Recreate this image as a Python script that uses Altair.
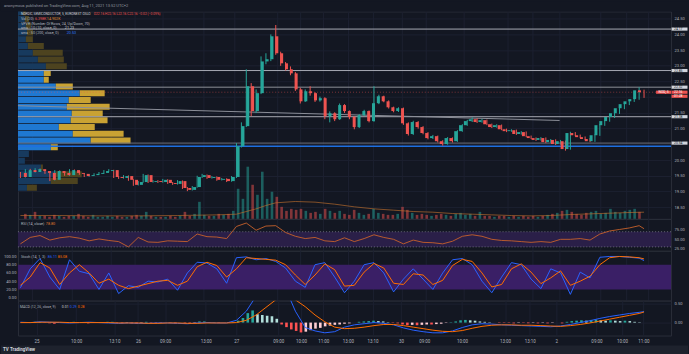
import json
import altair as alt
import pandas as pd

# ---------------- data ----------------
first_open = 19.59
closes = [19.46,19.68,19.62,19.71,19.65,19.59,19.37,19.65,19.59,19.52,
          19.68,19.59,19.56,19.49,19.52,19.56,19.59,19.65,19.68,19.46,
          19.43,19.49,19.37,19.21,19.30,19.52,19.30,19.33,19.30,19.37,
          19.27,19.24,19.33,19.11,19.05,19.14,19.46,19.52,19.43,19.46,
          19.37,19.40,19.33,19.46,20.44,21.08,22.35,21.56,22.13,23.14,
          23.21,23.94,23.40,23.08,22.89,22.76,22.25,21.87,22.19,22.13,
          21.90,21.97,21.40,21.49,21.30,21.75,21.56,21.37,21.05,21.43,
          21.56,21.24,21.81,22.03,21.87,21.68,21.56,21.65,21.17,20.83,
          21.21,21.05,20.86,20.70,20.76,20.60,20.51,20.70,20.60,20.92,
          21.11,21.24,21.30,21.21,21.27,21.14,21.05,21.11,20.98,20.92,
          20.95,20.83,20.89,20.76,20.70,20.64,20.70,20.57,20.64,20.51,
          20.60,20.35,20.86,20.79,20.73,20.67,20.60,20.79,21.11,21.24,
          21.37,21.49,21.65,21.78,21.87,21.94,22.22,22.16]
highs = [19.62,19.71,19.72,19.74,19.73,19.67,19.61,19.68,19.67,19.62,
         19.71,19.70,19.61,19.58,19.55,19.58,19.62,19.68,19.71,19.69,
         19.49,19.52,19.51,19.39,19.33,19.56,19.54,19.36,19.36,19.40,
         19.39,19.30,19.36,19.35,19.14,19.17,19.50,19.56,19.54,19.49,
         19.48,19.43,19.42,19.49,20.54,21.20,22.89,22.45,22.25,23.30,
         23.40,24.00,24.30,23.45,23.12,22.98,22.80,22.30,22.25,22.35,
         22.16,22.02,22.00,21.55,21.52,21.80,21.78,21.58,21.40,21.46,
         21.60,21.58,22.35,22.08,22.05,21.90,21.70,21.68,21.67,21.20,
         21.25,21.24,21.08,20.89,20.80,20.78,20.63,20.73,20.72,20.95,
         21.14,21.28,21.36,21.33,21.31,21.29,21.16,21.14,21.13,21.00,
         20.98,20.97,20.92,20.91,20.78,20.72,20.73,20.72,20.67,20.66,
         20.64,20.62,20.90,20.89,20.81,20.75,20.70,20.82,21.14,21.27,
         21.40,21.52,21.68,21.82,21.90,21.98,22.32,22.24]
lows = [19.43,19.44,19.60,19.60,19.62,19.56,19.33,19.35,19.57,19.50,
        19.50,19.56,19.53,19.46,19.47,19.50,19.54,19.57,19.63,19.43,
        19.40,19.41,19.34,19.18,19.19,19.28,19.27,19.28,19.27,19.28,
        19.24,19.21,19.22,19.08,19.01,19.03,19.12,19.43,19.40,19.41,
        19.34,19.35,19.30,19.31,19.43,20.40,21.05,21.40,21.50,22.10,
        23.05,23.15,23.35,23.00,22.85,22.70,22.20,21.80,21.85,22.05,
        21.85,21.86,21.30,21.20,21.24,21.28,21.50,21.30,20.98,21.02,
        21.40,21.20,21.22,21.78,21.84,21.64,21.52,21.53,21.12,20.78,
        20.80,21.00,20.82,20.66,20.67,20.56,20.46,20.49,20.56,20.58,
        20.90,21.09,21.21,21.18,21.19,21.11,21.02,21.03,20.95,20.89,
        20.90,20.80,20.81,20.73,20.67,20.61,20.62,20.54,20.55,20.48,
        20.49,20.30,20.33,20.76,20.70,20.64,20.57,20.58,20.77,21.09,
        21.22,21.34,21.47,21.62,21.75,21.85,21.92,21.98]
volumes_k = [7.5,6,10.5,4.5,4.5,3,6,4.5,3,4.5,
             4.5,7.5,4.5,3,6,3,3,4.5,3,4.5,
             3,3,4.5,6,4.5,10.5,4.5,3,3,3,
             4.5,3,4.5,10.5,4.5,7.5,25.5,6,4.5,4.5,
             7.5,6,7.5,12,45,30,78,51,36,70.5,
             30,40.5,33,18,12,15,13.5,15,12,9,
             10.5,7.5,15,12,9,12,7.5,6,13.5,9,
             6,7.5,15,9,7.5,6,6,7.5,18,13.5,
             9,6,7.5,6,4.5,6,7.5,6,4.5,7.5,
             9,6,7.5,4.5,10.5,4.5,4.5,3,4.5,4.5,
             3,4.5,3,4.5,3,4.5,3,4.5,6,7.5,
             9,12,13.5,10.5,7.5,6,9,10.5,12,7.5,
             9,15,10.5,9,12,13.5,15,10.5]
vol_ma_idx = [0,8,16,24,32,40,44,46,48,50,52,56,60,64,68,72,76,80,84,88,92,96,100,104,108,112,116,120,124,127]
vol_ma_k = [5,5,4.5,4.5,5,6,7,11,15,20,24,26,25,22,18,15,13,11,10,8,7,6,5,4.5,5,6.5,7.5,8.5,9.5,10]

# volume profile rows, bottom -> top
vp_up = [6.9,25.2,29.0,17.6,5.3,8.4,25.2,55.7,42.0,31.3,40.4,41.2,37.4,38.9,47.3,29.0,19.8,19.8,
         21.4,15.3,11.4,7.6,6.1,6.9,6.1,5.3,3.8]
vp_down = [7.6,20.6,19.8,1.5,0,0,5.3,30.5,38.9,27.5,28.2,23.7,32.8,16.8,19.1,13.0,3.8,5.3,
           16.0,19.8,22.9,12.2,5.3,4.6,3.8,3.1,2.3]
VP_LOW = 19.02
VP_STEP = 0.215
VALUE_AREA = (6, 17)

level_prices = [24.17, 22.85, 22.32, 21.38, 20.54]
blue_level = 20.44
trend_idx = [-0.5, 109.8]
trend_price = [21.73, 21.26]
last_price = 22.16

ind_idx = list(range(0, 128, 2)) + [127]
rsi = [38,55,60,48,54,57,53,46,51,47,44,30,55,43,42,46,45,44,64,57,56,52,
       84,93,74,85,86,68,58,52,55,46,44,54,44,52,62,55,50,38,48,42,41,38,45,58,62,58,50,47,
       46,44,42,44,42,50,50,52,48,64,72,76,80,86,78]
stoch_k = [24,70,95,50,20,92,64,58,20,60,10,29,25,40,38,45,18,60,86,84,70,35,
           97,99,92,95,88,72,40,25,80,85,50,12,40,80,85,60,14,45,70,45,20,60,92,95,80,40,12,50,
           85,80,45,22,70,60,8,62,48,98,100,100,98,96,90]
stoch_d = [30,50,85,72,32,60,80,60,35,45,30,22,28,34,40,42,30,40,75,86,78,50,
           70,97,95,93,91,80,55,32,55,82,68,28,30,62,83,72,35,32,58,55,32,42,78,93,88,60,26,32,
           70,82,62,34,48,65,30,40,52,80,97,100,99,97,94]
macd = [0.01,0.0,0.02,0.01,0.0,-0.01,0.0,0.01,0.0,-0.01,-0.02,-0.01,-0.02,-0.02,-0.01,-0.01,-0.02,-0.03,-0.01,0.0,-0.01,-0.01,
        0.06,0.3,0.7,1.0,1.2,0.9,0.3,-0.13,-0.22,-0.27,-0.24,-0.12,-0.06,-0.03,0.0,-0.02,-0.06,-0.14,-0.2,-0.24,
        -0.27,-0.27,-0.22,-0.13,-0.06,-0.03,-0.04,-0.06,-0.07,-0.08,-0.09,-0.1,-0.11,-0.09,-0.05,0.0,0.05,0.11,
        0.16,0.2,0.24,0.27,0.29]
signal = [0.0,0.0,0.01,0.01,0.01,0.0,0.0,0.0,0.0,0.0,-0.01,-0.01,-0.01,-0.02,-0.02,-0.01,-0.01,-0.02,-0.02,-0.01,-0.01,-0.01,
          0.0,0.06,0.2,0.4,0.6,0.75,0.6,0.42,0.2,0.02,-0.12,-0.16,-0.15,-0.12,-0.08,-0.05,-0.05,-0.08,-0.12,-0.16,
          -0.2,-0.23,-0.24,-0.21,-0.15,-0.1,-0.07,-0.06,-0.06,-0.07,-0.07,-0.08,-0.09,-0.1,-0.08,-0.05,-0.01,0.04,
          0.09,0.14,0.19,0.24,0.28]
hist = [0.01,-0.01,0.02,0.01,-0.01,-0.02,-0.03,0.01,0.01,-0.01,0.02,0.0,-0.01,-0.02,-0.01,0.0,0.01,0.02,0.02,-0.01,
        -0.02,-0.01,-0.02,-0.03,-0.01,0.02,-0.01,-0.01,-0.01,0.0,-0.01,-0.02,0.0,-0.02,-0.03,-0.01,0.03,0.03,0.01,0.01,
        -0.01,0.0,-0.01,0.01,
        0.05,0.12,0.25,0.32,0.22,0.2,0.18,0.17,0.1,-0.05,-0.12,-0.18,-0.22,-0.26,-0.24,-0.2,-0.16,-0.14,-0.1,-0.08,-0.06,
        -0.05,-0.03,-0.02,0.0,0.02,0.03,0.04,0.05,0.04,0.03,0.01,-0.01,-0.02,
        -0.05,-0.07,-0.06,-0.07,-0.06,-0.05,-0.05,-0.04,-0.03,-0.01,0.01,
        0.03,0.06,0.07,0.06,0.05,0.03,0.02,0.01,0.0,-0.01,-0.01,
        -0.01,-0.02,-0.01,-0.01,-0.02,-0.01,-0.02,-0.01,-0.02,-0.01,0.0,
        -0.02,0.02,0.04,0.05,0.06,0.05,0.07,0.08,0.06,0.05,0.06,0.05,0.04,0.05,0.04,0.02,0.01]

tick_pos = [2.3, 10.5, 18.4, 23.3, 28.9, 37.3, 43.6, 52.3, 57.0, 61.6, 66.7, 71.8, 77.7,
            82.5, 90.3, 99.2, 104.3, 109.8, 118.1, 123.4, 127.8]
tick_labels = ["25", "10:00", "13:10", "26", "09:00", "13:00", "27", "09:00", "10:00", "11:00",
               "13:00", "13:10", "30", "09:00", "10:00", "13:00", "13:10", "2", "09:00", "10:00", "11:00"]
price_ticks = [18.5, 19.0, 19.5, 20.0, 21.0, 21.5, 22.5, 23.0, 23.5, 24.0, 24.5]

N = len(closes)
assert len(highs) == N and len(lows) == N and len(volumes_k) == N and len(hist) == N
assert len(rsi) == len(ind_idx) == len(stoch_k) == len(stoch_d) == len(macd) == len(signal)

# ---------------- style ----------------
W = 655
BG = "#131722"
GRID = "#1c2030"
TXT = "#b2b5be"
FONT = "Roboto"
UP, DOWN = "#26a69a", "#ef5350"
BLUE, ORANGE = "#2962ff", "#ff6d00"

opens = [first_open] + closes[:-1]
cdf = pd.DataFrame({"i": range(N), "open": opens, "close": closes, "high": highs,
                    "low": lows, "vol": volumes_k})
cdf["c"] = [UP if c >= o else DOWN for o, c in zip(opens, closes)]

xs = alt.Scale(domain=[-0.5, 132.5], nice=False, zero=False)
x_grid = alt.Axis(values=tick_pos, labels=False, ticks=False, domain=False, grid=True,
                  gridColor=GRID, title=None)
label_expr = f"{json.dumps(tick_labels)}[indexof({json.dumps(tick_pos)}, datum.value)]"
x_lab = alt.Axis(values=tick_pos, labelExpr=label_expr, ticks=False, domain=False, grid=True,
                 gridColor=GRID, title=None, labelFontSize=4.5, labelColor=TXT, labelFont=FONT,
                 labelPadding=3, labelOverlap=False, labelFlush=False)

one = pd.DataFrame({"k": [0]})


def label(text, x, y, color=TXT, size=3.7, weight="normal", align="left"):
    return alt.Chart(one).mark_text(text=text, align=align, baseline="middle", fontSize=size,
                                    font=FONT, color=color, fontWeight=weight).encode(
        x=alt.value(x), y=alt.value(y))


def panel(layers, h):
    return alt.layer(*layers).resolve_scale(x="independent", y="independent").properties(
        width=W, height=h)


# ---------------- price panel ----------------
ps = alt.Scale(domain=[18.127, 24.73], nice=False, zero=False)
price_axis = alt.Axis(orient="right", values=price_ticks, format=".2f",
                      grid=True, gridColor=GRID, domain=False, ticks=False, labelPadding=3,
                      labelFontSize=4.1, labelColor=TXT, labelFont=FONT, title=None,
                      labelFlush=False, labelOverlap=False)
grid_extra = alt.Chart(pd.DataFrame({"p": [20.5, 22.0]})).mark_rule(color=GRID, strokeWidth=1).encode(
    y=alt.Y("p:Q", scale=ps, axis=None))

vp_rows = []
for k, (u, d) in enumerate(zip(vp_up, vp_down)):
    lo = VP_LOW + k * VP_STEP
    hi = lo + VP_STEP - 0.02
    bright = VALUE_AREA[0] <= k <= VALUE_AREA[1]
    vp_rows.append({"x0": 0, "x1": u, "p0": lo, "p1": hi, "c": "#1f78d1" if bright else "#173a5e"})
    vp_rows.append({"x0": u, "x1": u + d, "p0": lo, "p1": hi, "c": "#c9a233" if bright else "#4d431f"})
vp_df = pd.DataFrame(vp_rows)

vp = alt.Chart(vp_df).mark_rect(clip=True).encode(
    x=alt.X("x0:Q", scale=alt.Scale(domain=[0, 500], nice=False), axis=None),
    x2="x1:Q",
    y=alt.Y("p0:Q", scale=ps, axis=None), y2="p1:Q",
    color=alt.Color("c:N", scale=None))

vs = alt.Scale(domain=[0, 310], nice=False)
vol = alt.Chart(cdf).mark_bar(size=2.6, opacity=0.5).encode(
    x=alt.X("i:Q", scale=xs, axis=None), y=alt.Y("vol:Q", scale=vs, axis=None),
    color=alt.Color("c:N", scale=None))
volma = alt.Chart(pd.DataFrame({"i": vol_ma_idx, "v": vol_ma_k})).mark_line(
    color="#c2702c", strokeWidth=0.8, opacity=0.8).encode(
    x=alt.X("i:Q", scale=xs, axis=None), y=alt.Y("v:Q", scale=vs, axis=None))

lv_df = pd.DataFrame({"p": level_prices,
                      "c": ["#a7aab3", "#a7aab3", "#8e9199", "#a7aab3", "#6b6f7a"]})
levels = alt.Chart(lv_df).mark_rule(strokeWidth=1).encode(
    y=alt.Y("p:Q", scale=ps, axis=None), color=alt.Color("c:N", scale=None))
blue_rule = alt.Chart(pd.DataFrame({"p": [blue_level]})).mark_rule(
    strokeWidth=1.5, color="#1e6fe0").encode(y=alt.Y("p:Q", scale=ps, axis=None))
trend = alt.Chart(pd.DataFrame({"i": trend_idx, "p": trend_price})).mark_line(
    strokeWidth=1, color="#8c8f99").encode(
    x=alt.X("i:Q", scale=xs, axis=None), y=alt.Y("p:Q", scale=ps, axis=None))
last_rule = alt.Chart(pd.DataFrame({"p": [last_price]})).mark_rule(
    strokeWidth=0.8, color=DOWN, strokeDash=[1, 2], opacity=0.6).encode(
    y=alt.Y("p:Q", scale=ps, axis=None))

wicks = alt.Chart(cdf).mark_rule(strokeWidth=1).encode(
    x=alt.X("i:Q", scale=xs, axis=x_grid), y=alt.Y("low:Q", scale=ps, axis=price_axis),
    y2="high:Q", color=alt.Color("c:N", scale=None))
bodies = alt.Chart(cdf).mark_bar(size=3).encode(
    x=alt.X("i:Q", scale=xs, axis=None), y=alt.Y("open:Q", scale=ps, axis=None),
    y2="close:Q", color=alt.Color("c:N", scale=None))

box_df = pd.DataFrame({"p": level_prices + [last_price, last_price - 0.13],
                       "t": [f"{p:.2f}" for p in level_prices] + [f"{last_price:.2f}", "01:28"],
                       "bg": ["#d1d4dc"] * len(level_prices) + [DOWN, DOWN],
                       "fg": [BG] * len(level_prices) + ["#ffffff", "#ffffff"]})
box_df["lo"] = box_df["p"] - 0.05
box_df["hi"] = box_df["p"] + 0.05
boxes = alt.Chart(box_df).mark_rect().encode(
    x=alt.value(W + 0.5), x2=alt.value(W + 16.5),
    y=alt.Y("lo:Q", scale=ps, axis=None), y2="hi:Q", color=alt.Color("bg:N", scale=None))
box_txt = alt.Chart(box_df).mark_text(align="left", baseline="middle", fontSize=3.4, font=FONT).encode(
    x=alt.value(W + 3), y=alt.Y("p:Q", scale=ps, axis=None), text="t:N",
    color=alt.Color("fg:N", scale=None))
sym_df = pd.DataFrame({"p": [last_price], "lo": [last_price - 0.05], "hi": [last_price + 0.05]})
sym_box = alt.Chart(sym_df).mark_rect(color=DOWN).encode(
    x=alt.value(W - 15), x2=alt.value(W), y=alt.Y("lo:Q", scale=ps, axis=None), y2="hi:Q")
sym_txt = alt.Chart(sym_df).mark_text(text="NOD, 5", align="center", baseline="middle",
                                      fontSize=3.4, font=FONT, color="#ffffff").encode(
    x=alt.value(W - 7.5), y=alt.Y("p:Q", scale=ps, axis=None))

header_bg = alt.Chart(one).mark_rect(color=BG).encode(
    x=alt.value(-17), x2=alt.value(W + 17), y=alt.value(-10), y2=alt.value(0))

price_layers = [
    header_bg, grid_extra, vp, vol, volma, levels, blue_rule, trend, last_rule, wicks, bodies,
    boxes, box_txt, sym_box, sym_txt,
    label("anonymous published on TradingView.com, Aug 11, 2021 13:52 UTC+2", -14, -5, "#9598a1", 4.0),
    label("NORDIC SEMICONDUCTOR, 5, EURONEXT OSLO", 3, 3, "#d1d4dc", 3.3),
    label("O22.16  H22.16  L22.16  C22.16  \u22120.02 (\u22120.09%)", 76, 3, DOWN, 3.3),
    label("Vol (20)", 3, 8), label("6.398K", 17, 8, DOWN), label("14.902K", 29, 8, "#e08a2e"),
    label("VPVR (Number Of Rows, 24, Up/Down, 70)", 3, 12.5),
    label("sma \u00b7 10 (10, close, 0)", 3, 17), label("21.23", 47, 17, "#d1d4dc"),
    label("sma \u00b7 50 (200, close, 0)", 3, 21.5), label("20.53", 49, 21.5, "#2e7bff"),
]
price_panel = panel(price_layers, 208)

# ---------------- RSI panel ----------------
ind_df = pd.DataFrame({"i": ind_idx, "rsi": rsi, "k": stoch_k, "d": stoch_d,
                       "macd": macd, "sig": signal})
rs = alt.Scale(domain=[19.74, 103.95], nice=False, zero=False)
rsi_axis = alt.Axis(orient="right", values=[25, 50, 75], format=".2f", grid=False, domain=False,
                    ticks=False, labelPadding=3, labelFontSize=4.1, labelColor=TXT,
                    labelFont=FONT, title=None, labelFlush=False)
band_r = alt.Chart(pd.DataFrame({"lo": [30], "hi": [70]})).mark_rect(color="#2a1f48").encode(
    y=alt.Y("lo:Q", scale=rs, axis=None), y2="hi:Q")
dots_r = alt.Chart(pd.DataFrame({"v": [30, 70]})).mark_rule(
    color="#787b86", strokeDash=[1, 2], strokeWidth=0.8).encode(y=alt.Y("v:Q", scale=rs, axis=None))
rsi_line = alt.Chart(ind_df).mark_line(color="#c8612b", strokeWidth=0.9).encode(
    x=alt.X("i:Q", scale=xs, axis=x_grid), y=alt.Y("rsi:Q", scale=rs, axis=rsi_axis))
rsi_panel = panel([band_r, dots_r, rsi_line,
                   label("RSI (14, close)", 3, 5), label("78.80", 28, 5, "#e0772e")], 32)

# ---------------- Stoch panel ----------------
ss = alt.Scale(domain=[-7.26, 113.8], nice=False, zero=False)
st_axis = alt.Axis(orient="left", values=[0, 20, 40, 60, 80, 100], format=".2f", grid=False,
                   domain=False, ticks=False, labelPadding=2, labelFontSize=4.1, labelColor=TXT,
                   labelFont=FONT, title=None, labelFlush=False)
band_s = alt.Chart(pd.DataFrame({"lo": [20], "hi": [80]})).mark_rect(color="#3a1f66").encode(
    y=alt.Y("lo:Q", scale=ss, axis=None), y2="hi:Q")
k_line = alt.Chart(ind_df).mark_line(color=BLUE, strokeWidth=1).encode(
    x=alt.X("i:Q", scale=xs, axis=x_grid), y=alt.Y("k:Q", scale=ss, axis=st_axis))
d_line = alt.Chart(ind_df).mark_line(color=ORANGE, strokeWidth=1).encode(
    x=alt.X("i:Q", scale=xs, axis=None), y=alt.Y("d:Q", scale=ss, axis=None))
stoch_panel = panel([band_s, k_line, d_line,
                     label("Stoch (14, 1, 3)", 3, 6), label("86.11", 30, 6, BLUE),
                     label("85.08", 40, 6, ORANGE)], 50)

# ---------------- MACD panel ----------------
ms = alt.Scale(domain=[-0.342, 0.579], nice=False, zero=False)
m_axis = alt.Axis(orient="right", values=[0, 0.5], format=".2f", grid=True, gridColor=GRID,
                  domain=False, ticks=False, labelPadding=3, labelFontSize=4.1, labelColor=TXT,
                  labelFont=FONT, title=None, labelFlush=False)
hcol = []
prev = 0.0
for h in hist:
    if h >= 0:
        hcol.append("#26a69a" if h >= prev else "#b2dfdb")
    else:
        hcol.append("#ff5252" if h <= prev else "#ffcdd2")
    prev = h
hist_df = pd.DataFrame({"i": range(N), "h": hist, "c": hcol, "z": [0.0] * N})
hist_bars = alt.Chart(hist_df).mark_bar(size=2.6).encode(
    x=alt.X("i:Q", scale=xs, axis=x_lab), y=alt.Y("h:Q", scale=ms, axis=m_axis), y2="z:Q",
    color=alt.Color("c:N", scale=None))
macd_line = alt.Chart(ind_df).mark_line(color=BLUE, strokeWidth=1, clip=True).encode(
    x=alt.X("i:Q", scale=xs, axis=None), y=alt.Y("macd:Q", scale=ms, axis=None))
sig_line = alt.Chart(ind_df).mark_line(color=ORANGE, strokeWidth=1, clip=True).encode(
    x=alt.X("i:Q", scale=xs, axis=None), y=alt.Y("sig:Q", scale=ms, axis=None))
footer_bg = alt.Chart(one).mark_rect(color="#1e222d").encode(
    x=alt.value(-17), x2=alt.value(W + 17), y=alt.value(45), y2=alt.value(54))
macd_panel = panel([hist_bars, macd_line, sig_line,
                    label("MACD (12, 26, close, 9)", 2, 6, TXT, 3.5), label("0.01", 44, 6, "#d1d4dc", 3.5),
                    label("0.29", 52, 6, BLUE, 3.5), label("0.28", 60, 6, ORANGE, 3.5),
                    footer_bg, label("TV", -15, 49.5, "#d1d4dc", 4.5, "bold"),
                    label("TradingView", -8, 49.5, "#d1d4dc", 4.5, "bold")], 35)

chart = alt.vconcat(price_panel, rsi_panel, stoch_panel, macd_panel, spacing=0,
                    bounds="flush").properties(
    padding=0, background=BG
).configure_view(stroke="#2a2e39", strokeWidth=1, fill=BG)

chart.save("out.html", embed_options={"renderer": "svg", "actions": False})
